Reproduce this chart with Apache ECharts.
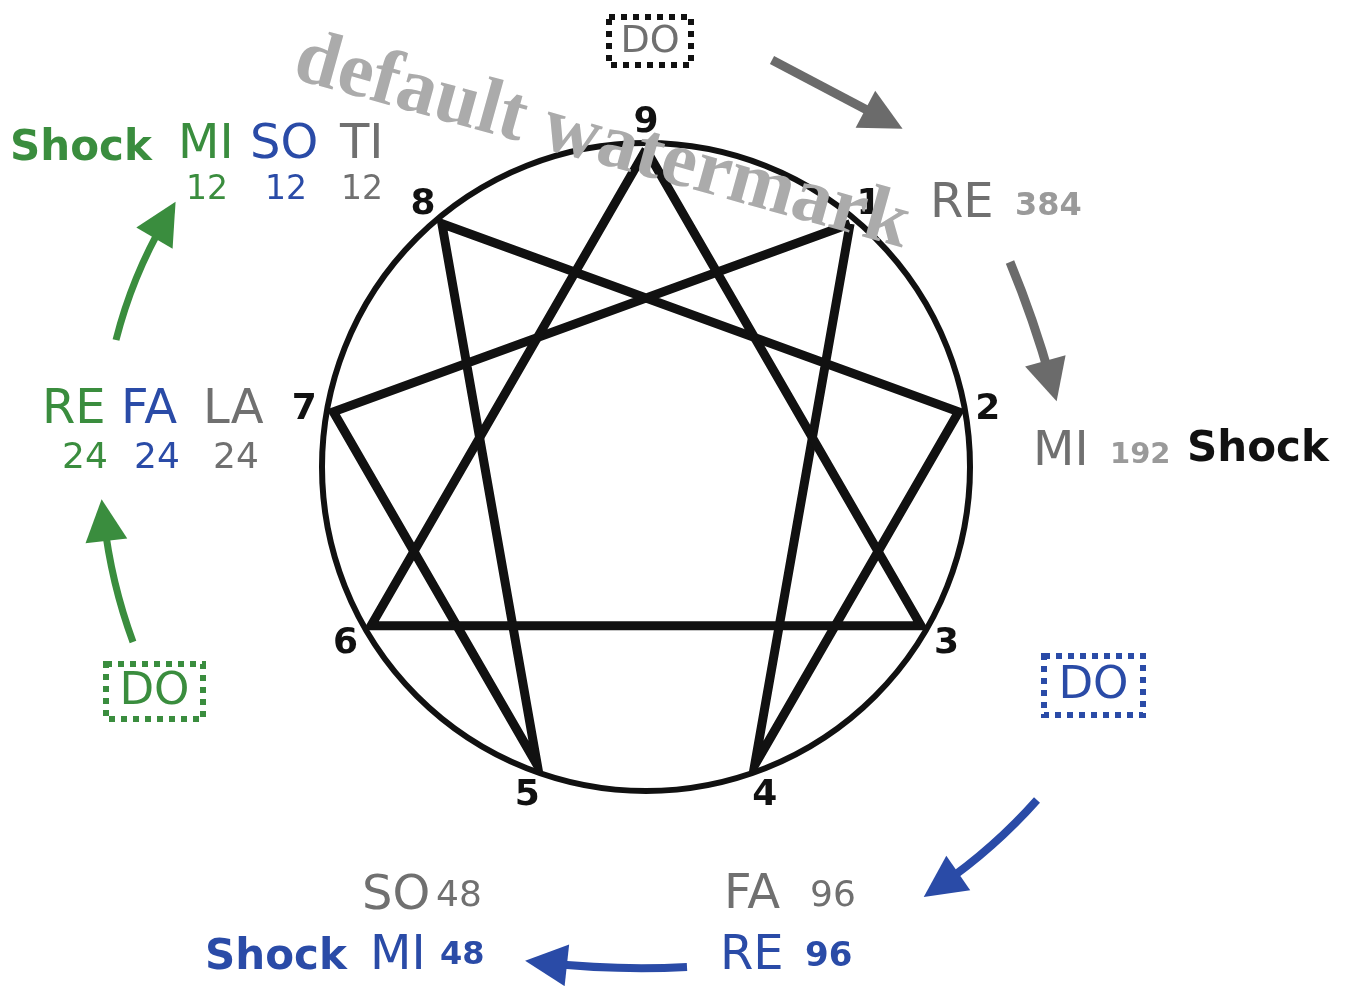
<!DOCTYPE html>
<html>
<head>
<meta charset="utf-8">
<title>Enneagram octave</title>
<script src="https://cdn.jsdelivr.net/npm/echarts@6/dist/echarts.min.js"></script>
<style>
  html, body { margin: 0; padding: 0; background: #fff; }
  #chart { width: 1347px; height: 986px; }
</style>
</head>
<body>
<div id="chart"></div>
<script>
// enneagram points, 9 on top, then clockwise every 40 degrees
var points = [9, 1, 2, 3, 4, 5, 6, 7, 8];
var hexadPath = [1, 4, 2, 8, 5, 7, 1];
var trianglePath = [9, 3, 6, 9];

// octave notes and their counts round the figure
var topNotes = ['MI', 'SO', 'TI'];
var topCounts = [12, 12, 12];
var leftNotes = ['RE', 'FA', 'LA'];
var leftCounts = [24, 24, 24];
var rightNotes = ['RE', 'MI'];
var rightCounts = [384, 192];
var bottomRightNotes = ['FA', 'RE'];
var bottomRightCounts = [96, 96];
var bottomLeftNotes = ['SO', 'MI'];
var bottomLeftCounts = [48, 48];
var shockLabel = 'Shock';
var doLabel = 'DO';

var GREEN = '#3a8d3e', BLUE = '#2a4ba7', GRAY = '#707070', LIGHT = '#9a9a9a';
var FONT = '"DejaVu Sans"';

function angleOf(n) { return (n % 9) * 40; }

function txt(x, y, text, color, size, weight, align) {
  var a = align || 'left';
  return {
    type: 'text', x: x, y: y, z: 50,
    style: {
      text: String(text), fill: color,
      font: (weight || 'normal') + ' ' + size + 'px ' + FONT,
      align: a, verticalAlign: 'middle',
      textAlign: a, textVerticalAlign: 'middle'
    }
  };
}

function doBox(x, y, w, h, boxColor, textColor, size) {
  return [
    {
      type: 'rect', z: 50,
      shape: { x: x, y: y, width: w, height: h },
      style: { fill: 'none', stroke: boxColor, lineWidth: 6, lineDash: [6, 6] }
    },
    txt(x + w / 2, y + h / 2 + 1, doLabel, textColor, size, 'normal', 'center')
  ];
}

var graphics = [];
// top left group
graphics.push(txt(10, 149, shockLabel, GREEN, 42, 'bold'));
[178, 250, 340].forEach(function (x, i) {
  graphics.push(txt(x, 146, topNotes[i], [GREEN, BLUE, GRAY][i], 48));
});
[207, 286, 362].forEach(function (x, i) {
  graphics.push(txt(x, 190, topCounts[i], [GREEN, BLUE, GRAY][i], 33, 'normal', 'center'));
});
// left group
[42, 121, 203].forEach(function (x, i) {
  graphics.push(txt(x, 411, leftNotes[i], [GREEN, BLUE, GRAY][i], 48));
});
[85, 157, 236].forEach(function (x, i) {
  graphics.push(txt(x, 459, leftCounts[i], [GREEN, BLUE, GRAY][i], 36, 'normal', 'center'));
});
// right side
graphics.push(txt(930, 205, rightNotes[0], GRAY, 48));
graphics.push(txt(1015, 207, rightCounts[0], LIGHT, 32, 'bold'));
graphics.push(txt(1033, 453, rightNotes[1], GRAY, 48));
graphics.push(txt(1110, 455, rightCounts[1], LIGHT, 29, 'bold'));
graphics.push(txt(1187, 450, shockLabel, '#111', 42, 'bold'));
// bottom right
graphics.push(txt(724, 896, bottomRightNotes[0], GRAY, 48));
graphics.push(txt(810, 897, bottomRightCounts[0], GRAY, 36));
graphics.push(txt(720, 957, bottomRightNotes[1], BLUE, 48));
graphics.push(txt(805, 957, bottomRightCounts[1], BLUE, 34, 'bold'));
// bottom left
graphics.push(txt(362, 897, bottomLeftNotes[0], GRAY, 48));
graphics.push(txt(436, 897, bottomLeftCounts[0], GRAY, 36));
graphics.push(txt(205, 958, shockLabel, BLUE, 42, 'bold'));
graphics.push(txt(370, 957, bottomLeftNotes[1], BLUE, 48));
graphics.push(txt(440, 956, bottomLeftCounts[1], BLUE, 32, 'bold'));
// DO boxes
graphics = graphics.concat(doBox(609, 17, 82, 48, '#111', GRAY, 38));
graphics = graphics.concat(doBox(106, 664, 97, 55, GREEN, GREEN, 45));
graphics = graphics.concat(doBox(1044, 656, 99, 59, BLUE, BLUE, 45));
// watermark
graphics.push({
  type: 'text', x: 602, y: 143, z: 100, rotation: -15.5 * Math.PI / 180,
  style: {
    text: 'default watermark', fill: '#ababab',
    font: 'bold 79px "Liberation Serif"',
    align: 'center', verticalAlign: 'middle',
    textAlign: 'center', textVerticalAlign: 'middle'
  }
});

function arrow(from, to, color, width, curve) {
  return { coords: [from, to], lineStyle: { color: color, width: width, curveness: curve, opacity: 1 } };
}

var chart = echarts.init(document.getElementById('chart'));
chart.setOption({
  animation: false,
  backgroundColor: '#fff',
  grid: { left: 0, right: 0, top: 0, bottom: 0 },
  xAxis: { type: 'value', min: 0, max: 1347, show: false },
  yAxis: { type: 'value', min: 0, max: 986, inverse: true, show: false },
  polar: { center: [646, 467], radius: 324 },
  angleAxis: {
    type: 'value', min: 0, max: 360, startAngle: 90, clockwise: true,
    axisLine: { show: true, lineStyle: { color: '#111', width: 6 } },
    axisTick: { show: false }, axisLabel: { show: false }, splitLine: { show: false }
  },
  radiusAxis: {
    type: 'value', min: 0, max: 1,
    axisLine: { show: false }, axisTick: { show: false },
    axisLabel: { show: false }, splitLine: { show: false }
  },
  graphic: graphics,
  series: [
    {
      type: 'line', coordinateSystem: 'polar', symbol: 'none',
      lineStyle: { color: '#111', width: 9, join: 'miter' },
      data: hexadPath.map(function (n) { return [0.98, angleOf(n)]; })
    },
    {
      type: 'line', coordinateSystem: 'polar', symbol: 'none',
      lineStyle: { color: '#111', width: 9, join: 'miter' },
      data: trianglePath.map(function (n) { return [0.98, angleOf(n)]; })
    },
    {
      type: 'scatter', coordinateSystem: 'polar', clip: false,
      symbol: 'circle', symbolSize: 1, itemStyle: { color: 'rgba(0,0,0,0)', opacity: 1 },
      label: {
        show: true, position: 'inside', formatter: '{b}', offset: [0, 3],
        color: '#111', fontSize: 36, fontWeight: 'bold', fontFamily: 'DejaVu Sans'
      },
      data: points.map(function (n) { return { name: String(n), value: [1.071, angleOf(n)] }; })
    },
    {
      type: 'lines', coordinateSystem: 'cartesian2d', z: 5,
      symbol: ['none', 'triangle'], symbolSize: [0, 42],
      itemStyle: { opacity: 1 },
      data: [
        arrow([772, 60], [884, 119], '#6b6b6b', 9, 0),
        arrow([1010, 262], [1051, 381], '#6b6b6b', 9, 0.03),
        arrow([1037, 800], [941, 885], BLUE, 8, 0.06),
        arrow([687, 967], [546, 963], BLUE, 8, 0.04),
        arrow([133, 642], [104, 520], GREEN, 7, 0.06),
        arrow([116, 340], [165, 220], GREEN, 7, 0.07)
      ]
    }
  ]
});
</script>
</body>
</html>
